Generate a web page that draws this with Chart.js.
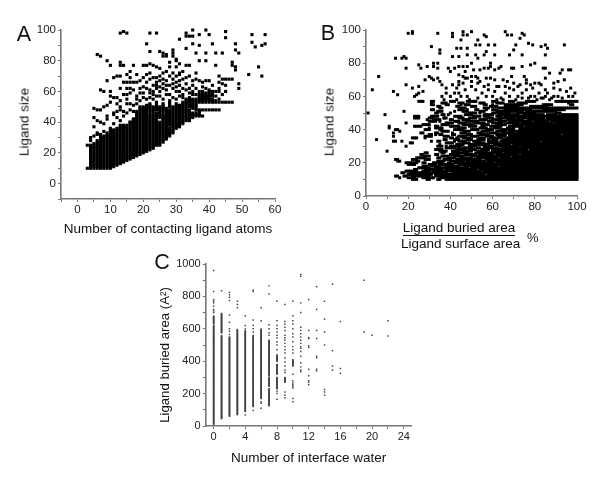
<!DOCTYPE html>
<html><head><meta charset="utf-8">
<style>
html,body{margin:0;padding:0;background:#fff;width:600px;height:480px;overflow:hidden}
canvas{position:absolute}
.t{position:absolute;font-family:"Liberation Sans",Arial,sans-serif;color:#111;white-space:nowrap}
.r{transform:translate(-50%,-50%) rotate(-90deg);font-size:13.5px}
.l{font-size:21.5px;line-height:24px;transform:translate(-50%,-50%)}
</style>
<script src="https://cdn.jsdelivr.net/npm/chart.js@4/dist/chart.umd.js"></script>
</head><body>
<canvas id="ca" width="300" height="245" style="left:0;top:0"></canvas>
<canvas id="cb" width="300" height="245" style="left:300px;top:0"></canvas>
<canvas id="cc" width="300" height="235" style="left:130px;top:245px"></canvas>
<div class="t l" style="left:24px;top:34px">A</div>
<div class="t l" style="left:328px;top:33px">B</div>
<div class="t l" style="left:162px;top:262px">C</div>
<div class="t r" style="left:24px;top:122px">Ligand size</div>
<div class="t r" style="left:329px;top:122px">Ligand size</div>
<div class="t r" style="left:164px;top:355px;font-size:13.2px">Ligand buried area (A²)</div>
<div class="t" id="fn" style="left:401px;top:219.5px;width:116px;text-align:center;font-size:13.5px;line-height:16px"><span style="border-bottom:1.4px solid #111">Ligand buried area</span></div>
<div class="t" id="fd" style="left:401px;top:236px;width:116px;text-align:center;font-size:13.5px;line-height:16px">Ligand surface area</div>
<div class="t" id="pc" style="left:527px;top:230px;font-size:13px;line-height:16px">%</div>
<script>
// ---------- Panel A: contacting ligand atoms vs ligand size ----------
const aTitleX = "Number of contacting ligand atoms";
// solid vertical runs: [atoms, sizeLow, sizeHigh]
const aSolidRuns = [[3,10,10],[4,10,25],[5,10,26],[6,10,28],[7,10,32],[8,10,31],[9,10,33],[10,10,35],[11,11,35],[12,12,36],[13,13,38],[14,14,38],[15,15,38],[16,16,40],[17,17,42],[18,18,47],[19,19,50],[20,20,50],[21,21,51],[22,22,45],[22,47,52],[23,23,50],[24,25,46],[24,48,53],[25,25,40],[25,43,50],[26,27,45],[26,47,52],[27,29,49],[28,31,36],[28,38,48],[28,50,54],[29,33,50],[30,36,52],[31,37,51],[32,39,53],[33,41,55],[34,41,48],[34,50,56],[35,43,46],[35,49,55],[36,45,46],[36,48,55],[37,44,48],[37,53,58],[38,48,48],[38,53,60],[39,48,48],[39,53,59],[40,48,48],[40,53,60],[41,48,48],[41,53,55],[42,48,48],[42,53,54],[43,48,48],[43,53,53],[44,53,53],[45,53,53],[46,53,53]];
const aScattered = [[13,98],[14,99],[15,98],[22,98],[24,98],[21,91],[22,86],[6,84],[7,83],[9,80],[13,79],[13,77],[14,77],[10,77],[17,77],[20,77],[21,77],[22,78],[23,77],[16,73],[15,71],[16,69],[18,71],[11,69],[12,70],[13,70],[9,67],[14,66],[15,66],[16,66],[17,66],[18,66],[19,67],[20,69],[22,72],[21,71],[24,76],[25,86],[26,85],[27,84],[26,83],[27,83],[29,87],[29,85],[29,83],[31,94],[28,79],[30,80],[30,76],[28,76],[25,75],[27,73],
[33,98],[33,96],[34,96],[35,96],[35,100],[37,97],[39,100],[40,97],[45,99],[45,95],[35,91],[37,90],[33,88],[41,91],[48,91],[48,87],[49,85],[53,97],[57,97],[53,92],[54,89],[56,90],[57,91],[36,85],[39,85],[42,85],[44,85],[37,80],[39,80],[42,77],[47,79],[47,77],[48,76],[48,74],[55,76],[52,71],[56,70],[49,65],[49,62],[30,81],[31,78],[33,77],[34,77],[36,72],[31,71],[43,70],[45,68],[46,68],[44,68],[47,68],[43,66],[45,64],[45,60],[41,64],[43,62],[43,60],[41,60],[42,57],[40,67],[39,67],[38,66],[37,67],[36,68],[34,70],[32,68],[31,72],[33,65],[43,55],[40,57],[39,56],[37,60],[36,62],[35,64],[34,62],[33,61],[32,62],[31,64],[30,66],[29,68],[28,70],[27,67],[26,65],[26,62],[25,60],[24,62],[23,60],[24,69],[28,64],[29,62],[30,60],[31,57],[32,58],[35,60],[42,60],[44,58],[44,65],[38,63],[39,62],[40,61],[41,58],[37,45],[38,44],[36,44],[47,53],[40,55],[41,57],
[7,61],[8,60],[10,60],[11,56],[10,57],[13,62],[14,58],[15,58],[16,59],[15,62],[16,62],[17,61],[19,62],[20,63],[21,62],[22,61],[23,64],[24,66],[25,67],[26,68],[18,57],[19,54],[20,56],[21,55],[5,49],[6,48],[7,48],[8,50],[9,51],[13,50],[11,46],[12,47],[15,52],[14,47],[15,46],[16,48],[16,52],[5,43],[6,41],[7,40],[8,39],[9,44],[9,42],[11,45],[12,43],[13,48],[14,44],[17,42],[16,40],[5,37],[6,33],[5,31],[4,28],[3,25],[8,34],[10,36],[11,39],[13,41],[4,30],[6,32],[17,47],[18,52],[22,56],[23,55],[24,57],[26,55],[27,58],
[19,59],[20,59],[22,59],[23,58],[25,57],[27,61],[28,58],[29,56],[30,55],[31,60],[32,56],[34,59],[35,58],[36,58],[24,64],[25,63],[27,64],[29,65],[31,67],[33,69],[35,67],[30,63],[21,66],[22,68],[25,70],[23,69],[26,72],[29,72],[30,70],[32,73],[17,51],[18,55],[15,55],[13,54],[12,56],[10,53],[12,52]];

// ---------- Panel B: buried fraction vs ligand size ----------
// one row per ligand size: horizontal runs [pctLow, pctHigh]
const bRowSizes = [10,11,12,13,14,15,16,17,18,19,20,21,22,23,24,25,26,27,28,29,30,31,32,33,34,35,36,37,38,39,40,41,42,43,44,45,46,47,48,49,50,51,52,53,54,55,56,57];
const bRowRuns = [
[[22,24],[29,30],[34,35],[38,100]],
[[16,16],[20,23],[27,32],[35,100]],
[[14,15],[18,19],[22,30],[33,100]],
[[20,31],[33,56],[58,100]],
[[17,18],[21,38],[41,100]],
[[19,24],[27,30],[32,54],[56,100]],
[[23,24],[28,36],[38,52],[54,100]],
[[25,30],[33,48],[50,100]],
[[27,29],[31,35],[38,44],[47,62],[64,100]],
[[20,23],[30,33],[35,41],[44,100]],
[[19,24],[27,28],[32,36],[39,40],[42,60],[62,100]],
[[15,16],[24,25],[34,37],[40,46],[48,56],[58,100]],
[[14,15],[22,24],[28,30],[37,40],[43,54],[57,100]],
[[24,28],[34,35],[39,42],[45,50],[53,62],[64,100]],
[[27,30],[36,39],[42,46],[50,68],[70,100]],
[[26,27],[33,34],[40,44],[47,52],[54,60],[62,72],[74,100]],
[[28,29],[36,37],[41,48],[52,64],[66,100]],
[[10,10],[35,38],[41,44],[47,50],[53,57],[60,100]],
[[33,36],[43,47],[49,52],[55,58],[60,76],[78,100]],
[[38,42],[46,50],[53,54],[56,62],[65,100]],
[[19,19],[34,36],[40,45],[49,52],[56,60],[63,72],[74,100]],
[[43,46],[49,50],[52,58],[61,68],[70,100]],
[[21,22],[38,41],[46,49],[52,56],[58,63],[65,100]],
[[13,14],[17,17],[34,35],[44,47],[51,54],[58,62],[64,82],[84,100]],
[[5,5],[37,38],[42,44],[48,50],[53,56],[60,62],[65,100]],
[[22,24],[40,41],[46,49],[54,56],[59,64],[67,100]],
[[13,13],[28,31],[37,39],[44,47],[50,53],[58,60],[63,66],[68,100]],
[[30,31],[35,36],[41,42],[48,50],[54,58],[62,66],[68,92],[94,100]],
[[13,13],[26,27],[33,34],[45,47],[53,55],[59,62],[65,70],[72,100]],
[[16,16],[36,39],[47,49],[55,58],[62,66],[68,100]],
[[14,15],[28,30],[35,36],[42,46],[50,53],[57,60],[64,70],[73,100]],
[[11,11],[33,35],[44,47],[54,57],[61,63],[67,70],[73,100]],
[[11,11],[23,26],[33,34],[40,43],[49,52],[55,56],[59,64],[68,74],[76,100]],
[[28,30],[36,39],[46,50],[55,58],[62,66],[70,100]],
[[19,19],[38,41],[44,47],[52,56],[60,64],[67,72],[74,88],[90,100]],
[[30,33],[42,44],[48,53],[58,60],[63,66],[68,78],[80,86],[88,100]],
[[32,35],[40,41],[46,49],[54,57],[60,64],[67,74],[77,100]],
[[23,25],[30,31],[37,38],[44,46],[50,52],[58,60],[63,70],[72,84],[86,100]],
[[23,25],[31,34],[42,45],[51,54],[56,58],[62,64],[66,100]],
[[9,9],[36,37],[47,50],[56,60],[63,72],[75,84],[86,90],[92,100]],
[[1,1],[33,34],[40,40],[49,52],[60,68],[72,80],[90,92]],
[[18,18],[34,36],[46,48],[54,56],[62,74],[76,90]],
[[31,32],[44,46],[52,53],[60,62],[66,78],[84,94]],
[[35,36],[45,47],[56,58],[63,100]],
[[34,35],[43,44],[50,52],[59,62],[66,72],[78,86]],
[[31,32],[38,39],[47,49],[56,57],[66,74],[84,88],[97,98]],
[[31,31],[36,38],[44,46],[54,56],[62,65],[72,76],[96,96]],
[[25,27],[31,32],[40,42],[48,52],[60,62],[68,70],[76,80],[90,100]]
];
const bScattered = [[3,64],[6,72],[13,63],[15,61],[14,83],[17,83],[18,84],[19,83],[19,77],[19,67],[20,98],[22,99],[22,98],[34,98],[41,98],[41,96],[46,99],[46,97],[48,97],[45,94],[31,90],[35,88],[35,86],[43,89],[45,89],[48,89],[48,85],[44,84],[41,84],[22,65],[25,66],[24,61],[25,62],[27,63],[23,60],[25,79],[26,77],[29,78],[32,78],[34,77],[32,80],[34,80],[28,70],[30,72],[31,71],[32,70],[34,71],[35,69],[36,67],[38,65],[38,62],[41,67],[44,67],[43,65],[46,68],[44,62],[39,77],[40,75],[42,77],[44,78],[46,78],[48,78],[47,75],[44,73],[46,72],[48,71],
[50,99],[56,97],[57,96],[66,99],[67,97],[69,97],[74,98],[75,97],[73,95],[53,94],[77,92],[79,91],[83,90],[85,91],[86,89],[94,91],[54,91],[58,91],[61,91],[52,91],[71,91],[70,88],[68,85],[74,85],[52,85],[56,85],[61,85],[85,85],[53,83],[57,87],[50,80],[59,80],[59,78],[64,78],[63,77],[69,77],[70,77],[74,78],[78,79],[80,80],[61,76],[58,77],[56,77],[54,76],[51,76],[84,77],[85,77],[93,76],[96,76],[97,76],[87,74],[85,71],[92,74],[94,70],[89,68],[91,69],[89,65],[97,65],[98,60],[99,62],[75,72],[76,70],[65,70],[67,69],[59,71],[57,71],[53,71],[52,72],[50,72],[61,70],[73,67],[76,68],[80,68],[82,68],[83,67],[85,64],[92,64],[95,63],[93,57],[89,60],
[40,60],[42,62],[47,64],[48,60],[50,66],[52,64],[53,68],[55,62],[56,66],[58,64],[60,60],[61,63],[63,66],[64,59],[66,62],[68,60],[70,64],[72,66],[72,60],[74,62],[76,64],[77,59],[79,65],[80,60],[82,62],[83,59],[85,60],[87,58],[91,60],[93,59],[36,60],[37,58],[43,58],[45,60],[49,58],[53,59],[57,60],[62,58],[65,58],[68,65],[71,58],[74,59],[78,60],[81,58],[84,59],[86,62],[88,59],[96,60],[70,68],[69,72],[78,67],[44,69],[47,71],[50,69],[54,69],[58,67],[62,66],[66,66],
[27,43],[29,46],[30,41],[32,48],[33,42],[35,45],[36,41],[37,47],[38,43],[39,49],[40,46],[41,38],[42,51],[43,35],[44,42],[45,55],[46,38],[47,44],[48,52],[49,47],[50,34],[51,43],[52,57],[53,40],[54,50],[55,37],[56,46],[57,52],[58,34],[59,40],[60,55],[28,35],[31,33],[33,37],[35,31],[38,30],[42,33],[44,29],[46,26],[49,28],[51,31],[55,28],[57,36],[59,47]];

// ---------- Panel C: interface water vs ligand buried area ----------
// solid vertical runs: [waters, areaLow, areaHigh]
const cSolidRuns = [[0,10,620],[0,630,680],[1,45,560],[1,575,695],[2,60,550],[3,70,595],[4,90,590],[5,120,560],[6,170,500],[6,505,600],[7,125,230],[7,245,300],[7,310,530],[8,230,300],[8,320,380],[8,400,440],[9,270,300],[10,370,410]];
const cScattered = [[0,700],[0,710],[0,720],[0,740],[0,760],[0,770],[0,780],[0,830],[0,960],[1,835],[2,565],[2,585],[2,600],[2,640],[2,685],[2,775],[2,795],[2,810],[2,825],[3,730],[3,750],[3,770],[4,68],[4,600],[4,620],[4,680],[5,95],[5,580],[5,600],[5,620],[5,655],[5,830],[5,840],[6,110],[6,140],[6,150],[6,650],[6,730],[7,560],[7,575],[7,600],[7,625],[7,815],[7,865],[8,165],[8,200],[8,215],[8,470],[8,500],[8,520],[8,545],[8,560],[8,580],[8,600],[8,620],[8,650],[8,770],[9,175],[9,190],[9,210],[9,330],[9,345],[9,370],[9,395],[9,420],[9,450],[9,470],[9,490],[9,510],[9,530],[9,545],[9,560],[9,590],[9,610],[9,630],[9,645],[9,750],[10,150],[10,170],[10,235],[10,245],[10,255],[10,265],[10,280],[10,320],[10,450],[10,470],[10,490],[10,520],[10,550],[10,570],[10,600],[10,630],[10,650],[10,680],[10,770],[11,335],[11,345],[11,365],[11,390],[11,430],[11,460],[11,480],[11,490],[11,510],[11,530],[11,550],[11,570],[11,590],[11,610],[11,700],[11,760],[11,925],[11,935],[12,255],[12,270],[12,280],[12,310],[12,350],[12,485],[12,495],[12,540],[12,545],[12,590],[12,780],[13,340],[13,350],[13,420],[13,430],[13,540],[13,590],[13,720],[13,860],[14,190],[14,210],[14,225],[14,500],[14,580],[14,660],[14,770],[15,345],[15,370],[15,465],[15,875],[16,325],[16,355],[16,645],[19,580],[19,900],[20,560],[22,555],[22,650]];

const xLabelsEveryA = 10, xLabelsEveryB = 20, xLabelsEveryC = 4;
const yLabelsEvery = 20, yLabelsEveryC = 200;

// expand runs (sizes are whole numbers; the dense columns/rows are every value in a run)
function aPoints(){const p=[];aSolidRuns.forEach(r=>{for(let y=r[1];y<=r[2];y++)p.push({x:r[0],y})});aScattered.forEach(s=>p.push({x:s[0],y:s[1]}));return p}
function bPoints(){const p=[];bRowSizes.forEach((y,i)=>bRowRuns[i].forEach(r=>{for(let x=r[0];x<=r[1];x++)p.push({x,y})}));bScattered.forEach(s=>p.push({x:s[0],y:s[1]}));return p}
function cPoints(){const p=[];cSolidRuns.forEach(r=>{for(let y=r[1];y<=r[2];y+=3)p.push({x:r[0],y})});cScattered.forEach(s=>p.push({x:s[0],y:s[1]}));return p}

const FONT='"Liberation Sans", Arial, sans-serif';
const AX='#777';
function axis(o){
  const every=o.tickEvery||o.step;
  return {type:'linear',min:o.min,max:o.max,
    ticks:{stepSize:o.step,autoSkip:false,maxRotation:0,padding:o.pad,color:'#222',font:{family:FONT,size:o.fs},
      callback:v=>(v%o.label===0?String(v):'')},
    grid:{display:true,drawOnChartArea:false,drawTicks:true,tickLength:3,tickWidth:1,
      tickColor:c=>(c.tick&&c.tick.value%every===0?AX:'rgba(0,0,0,0)')},
    border:{display:true,color:AX,width:1.6},
    title:o.title?{display:true,text:o.title,color:'#111',font:{family:FONT,size:o.ts||13.5},padding:{top:0,bottom:o.tb}}:{display:false},
    afterFit:s=>{if(o.w!==undefined)s.width=o.w;if(o.h!==undefined)s.height=o.h}};
}
function make(id,data,radius,color,xo,yo,pad){
  return new Chart(document.getElementById(id),{type:'scatter',
    data:{datasets:[{data,pointStyle:'rect',pointRadius:radius,pointHoverRadius:radius,pointBorderWidth:0,backgroundColor:color,clip:false}]},
    options:{responsive:false,animation:false,events:[],layout:{padding:pad},
      plugins:{legend:{display:false},tooltip:{enabled:false},title:{display:false}},
      scales:{x:axis(xo),y:axis(yo)}}});
}
make('ca',aPoints(),2.2,'#000',
  {min:-5,max:60,step:5,label:xLabelsEveryA,pad:1,fs:11.5,title:aTitleX,tb:8,h:46},
  {min:-10,max:100,step:10,label:yLabelsEvery,pad:2,fs:11.5,w:61},
  {top:30,left:0,right:25,bottom:0});
make('cb',bPoints(),2.1,'#000',
  {min:0,max:100,step:10,label:xLabelsEveryB,pad:1,fs:11.5,h:49},
  {min:0,max:100,step:10,label:yLabelsEvery,pad:2,fs:11.5,w:66},
  {top:30,left:0,right:23,bottom:0});
make('cc',cPoints(),1.05,'#444',
  {min:-1,max:25,step:1,tickEvery:2,label:xLabelsEveryC,pad:1,fs:11,title:"Number of interface water",ts:13.5,tb:14,h:54},
  {min:0,max:1000,step:100,label:yLabelsEveryC,pad:2,fs:11,w:75.7},
  {top:19,left:0,right:18.3,bottom:0});
</script>
</body></html>
